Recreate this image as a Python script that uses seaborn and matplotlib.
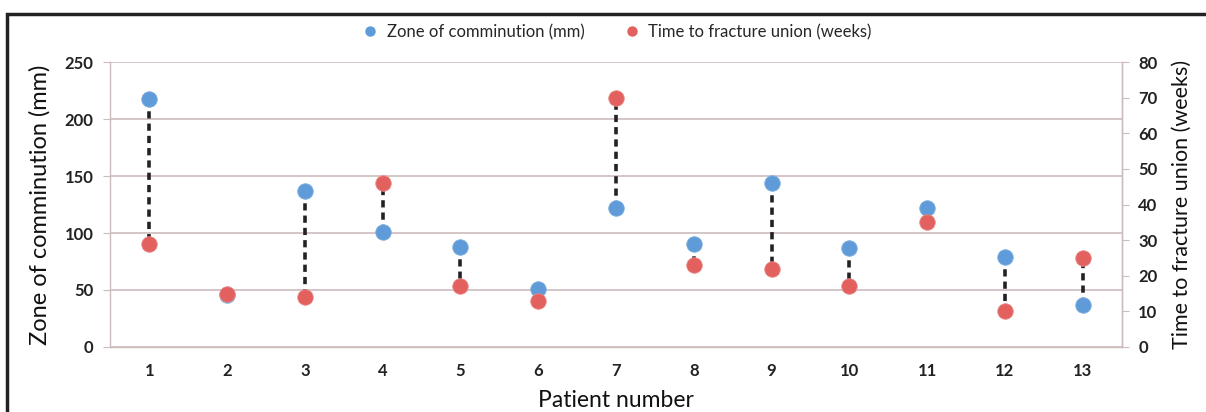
import numpy as np
import pandas as pd
import matplotlib
matplotlib.use('Agg')
import matplotlib.pyplot as plt
from matplotlib.lines import Line2D
from matplotlib.patches import Rectangle
import seaborn as sns

patients = list(range(1, 14))
zone_mm = [218, 46, 137, 101, 88, 51, 122, 90, 144, 87, 122, 79, 37]
union_weeks = [29, 15, 14, 46, 17, 13, 70, 23, 22, 17, 35, 10, 25]

df = pd.DataFrame({'Patient': patients, 'Zone': zone_mm, 'Weeks': union_weeks})

sns.set_style('white')
plt.rcParams['font.family'] = ['Lato', 'DejaVu Sans']

blue = '#5f9bd8'
red = '#e2615f'
grid_c = '#cdbcbc'

fig = plt.figure(figsize=(12.06, 4.12), dpi=100)
ax = fig.add_axes([0.0915, 0.158, 0.8385, 0.691])
ax2 = ax.twinx()

# dashed connectors, red converted to left-axis units
for p, z, w in zip(patients, zone_mm, union_weeks):
    ax.plot([p, p], [z, w * 250 / 80], color='#222222', ls=(0, (2.0, 1.4)),
            lw=2.6, zorder=1)

sns.scatterplot(data=df, x='Patient', y='Zone', ax=ax, color=blue, s=125,
                edgecolor='#7fb0e0', linewidth=0.6, zorder=3, legend=False)
sns.scatterplot(data=df, x='Patient', y='Weeks', ax=ax2, color=red, s=125,
                edgecolor='#ea8a88', linewidth=0.6, zorder=3, legend=False)

ax.set_xlim(0.5, 13.5)
ax.set_ylim(0, 250)
ax2.set_ylim(0, 80)
ax.set_xticks(patients)
ax.set_yticks(range(0, 251, 50))
ax2.set_yticks(range(0, 81, 10))

ax.yaxis.grid(True, color=grid_c, lw=1.2)
ax.set_axisbelow(True)

for a in (ax, ax2):
    for s in a.spines.values():
        s.set_color(grid_c)
        s.set_linewidth(1.0)
    a.spines['top'].set_visible(False)
ax2.spines['left'].set_visible(False)
ax2.spines['bottom'].set_visible(False)

ax.tick_params(axis='y', length=5, color=grid_c, labelsize=12, pad=7, direction='out')
ax.tick_params(axis='x', length=5, color=grid_c, labelsize=12, pad=9, direction='inout')
ax2.tick_params(axis='y', length=5, color=grid_c, labelsize=12, pad=7, direction='out')
for lab in ax.get_xticklabels() + ax.get_yticklabels() + ax2.get_yticklabels():
    lab.set_fontweight('bold')
    lab.set_color('#222222')

ax.set_xlabel('Patient number', fontsize=16.5, labelpad=8, color='#111111')
ax.set_ylabel('Zone of comminution (mm)', fontsize=17, labelpad=10, color='#111111')
ax2.set_ylabel('Time to fracture union (weeks)', fontsize=15.5, labelpad=10, color='#111111')

handles = [Line2D([], [], marker='o', ls='', color=blue, markersize=6.5),
           Line2D([], [], marker='o', ls='', color=red, markersize=6.5)]
fig.legend(handles, ['Zone of comminution (mm)', 'Time to fracture union (weeks)'],
           loc='center', bbox_to_anchor=(0.508, 0.922), ncol=2, frameon=False,
           fontsize=12, handletextpad=0.0, columnspacing=1.8)

# outer frame
fig.patches.append(Rectangle((0.006, -0.05), 1.1, 1.016, transform=fig.transFigure,
                             fill=False, edgecolor='#222222', lw=2.5))

fig.savefig('out.png', dpi=100)
